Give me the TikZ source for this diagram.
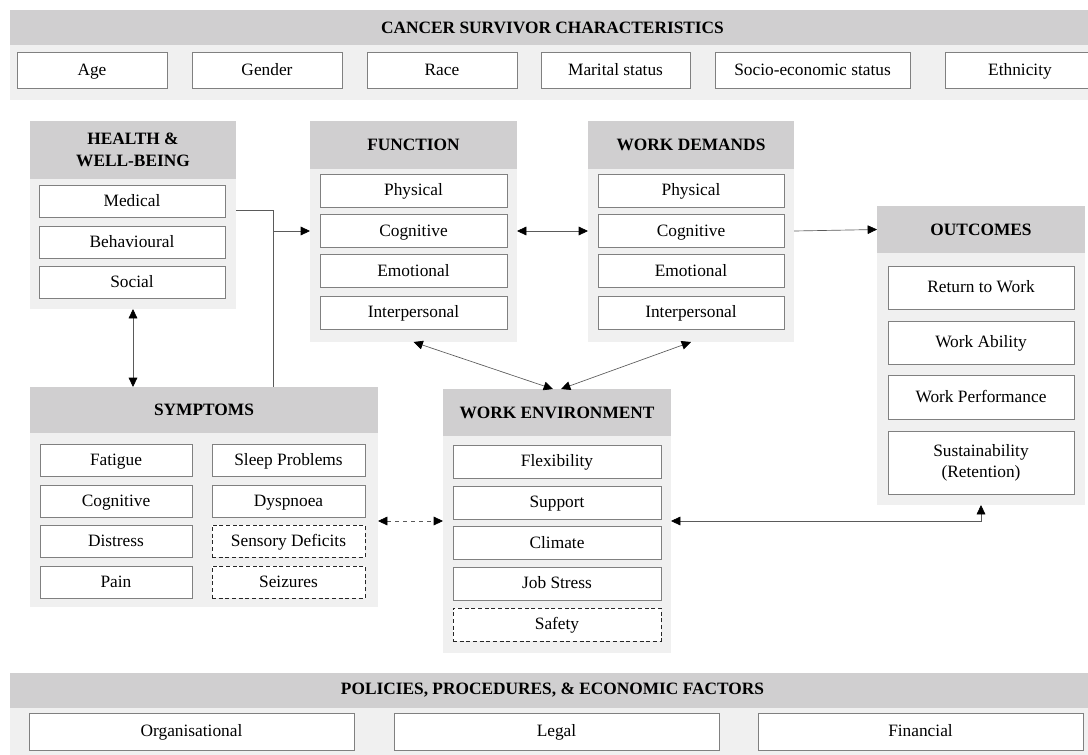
\documentclass[tikz,border=0pt]{standalone}
\usepackage{fontspec}
\setmainfont{Liberation Serif}
\usetikzlibrary{arrows.meta}
\definecolor{headgray}{RGB}{208,207,208}
\definecolor{panelgray}{RGB}{240,240,240}
\definecolor{boxgray}{RGB}{128,128,128}
\definecolor{linegray}{RGB}{90,90,90}
\tikzstyle{panel} = [fill=panelgray,inner sep=0pt,outer sep=0pt]
\tikzstyle{heading} = [fill=headgray,inner sep=0pt,outer sep=0pt,align=center,
    font=\fontsize{13}{16}\selectfont\bfseries]
\tikzstyle{item} = [draw=boxgray,line width=0.6pt,fill=white,inner sep=0pt,outer sep=0pt,
    align=center,text height=10pt,text depth=2.5pt,font=\fontsize{13}{16}\selectfont]
\tikzstyle{dasheditem} = [item,draw=black!85,dash pattern=on 3pt off 2pt]
\tikzstyle{link} = [draw=linegray,line width=0.5pt]
\tikzstyle{oneway} = [link,-{Triangle[length=7pt,width=6.5pt,color=black]}]
\tikzstyle{twoway} = [link,{Triangle[length=7pt,width=6.5pt,color=black]}-{Triangle[length=7pt,width=6.5pt,color=black]}]
\tikzset{boxsize/.style 2 args={minimum width=({#1})*0.75pt,minimum height=({#2})*0.75pt}}
% grey panel with its heading band: name, x1, y1, x2, y2, heading bottom, title
\newcommand{\groupbox}[7]{
    \node (#1) [panel, boxsize={#4-#2}{#5-#3}] at ({(#2+#4)/2},{(#3+#5)/2}) {};
    \node (#1head) [heading, boxsize={#4-#2}{#6-#3}] at ({(#2+#4)/2},{(#3+#6)/2}) {#7};
}

\begin{document}
\begin{tikzpicture}[x=0.75pt,y=-0.75pt]
	\useasboundingbox (0,0) rectangle (1088,754);
	
	% survivor characteristics
	\groupbox{traits}{10}{10}{1095}{100}{45}{CANCER SURVIVOR CHARACTERISTICS}
	\node (age) [item, boxsize={150}{36}] at (92,70) {Age};
	\node (gender) [item, boxsize={150}{36}] at (267,70) {Gender};
	\node (race) [item, boxsize={150}{36}] at (442,70) {Race};
	\node (marital) [item, boxsize={149}{36}] at (615.5,70) {Marital status};
	\node (socio) [item, boxsize={195}{36}] at (812.5,70) {Socio-economic status};
	\node (ethnicity) [item, boxsize={150}{36}] at (1020,70) {Ethnicity};
	
	% health and well-being
	\groupbox{health}{30}{121}{236}{309}{179}{HEALTH \&\\WELL-BEING}
	\foreach \y/\n/\t in {201/medical/Medical, 242/behaviour/Behavioural, 282/social/Social}
		\node (\n) [item, boxsize={186}{32}] at (132,\y) {\t};
	
	% function
	\groupbox{function}{310}{121}{517}{342}{169}{FUNCTION}
	\foreach \y/\n/\t in {190.5/phys/Physical, 231/cog/Cognitive, 271/emo/Emotional, 312.5/inter/Interpersonal}
		\node (f\n) [item, boxsize={187}{33}] at (413.5,\y) {\t};
	
	% work demands
	\groupbox{demands}{588}{121}{794}{342}{169}{WORK DEMANDS}
	\foreach \y/\n/\t in {190.5/phys/Physical, 231/cog/Cognitive, 271/emo/Emotional, 312.5/inter/Interpersonal}
		\node (d\n) [item, boxsize={186}{33}] at (691,\y) {\t};
	
	% outcomes
	\groupbox{outcomes}{877}{206}{1085}{505}{253}{OUTCOMES}
	\node (rtw) [item, boxsize={186}{43}] at (981,287.5) {Return to Work};
	\node (ability) [item, boxsize={186}{43}] at (981,342.5) {Work Ability};
	\node (perform) [item, boxsize={186}{44}] at (981,397) {Work Performance};
	\node (sustain) [item, boxsize={186}{63}, text height=, text depth=] at (981,462.5) {Sustainability\\(Retention)};
	
	% symptoms
	\groupbox{symptoms}{30}{387}{378}{607}{433}{SYMPTOMS}
	\foreach \y/\n/\t in {460/fatigue/Fatigue, 501/scog/Cognitive, 541/distress/Distress, 582/pain/Pain}
		\node (\n) [item, boxsize={152}{32}] at (116,\y) {\t};
	\node (sleep) [item, boxsize={153}{32}] at (288.5,460) {Sleep Problems};
	\node (dyspnoea) [item, boxsize={153}{32}] at (288.5,501) {Dyspnoea};
	\node (sensory) [dasheditem, boxsize={153}{32}] at (288.5,541) {Sensory Deficits};
	\node (seizures) [dasheditem, boxsize={153}{32}] at (288.5,582) {Seizures};
	
	% work environment
	\groupbox{environment}{443}{389}{671}{653}{436}{WORK ENVIRONMENT}
	\foreach \y/\n/\t in {461.5/flex/Flexibility, 502.5/support/Support, 543/climate/Climate, 583.5/stress/Job Stress}
		\node (\n) [item, boxsize={208}{33}] at (557,\y) {\t};
	\node (safety) [dasheditem, boxsize={208}{33}] at (557,624.5) {Safety};
	
	% policies
	\groupbox{policies}{10}{673}{1095}{760}{708}{POLICIES, PROCEDURES, \& ECONOMIC FACTORS}
	\node (organisational) [item, boxsize={325}{37}] at (191.5,731.5) {Organisational};
	\node (legal) [item, boxsize={325}{37}] at (556.5,731.5) {Legal};
	\node (financial) [item, boxsize={325}{37}] at (920.5,731.5) {Financial};
	
	% connectors
	\draw[link] ([yshift=3.75pt]health.east) -- ++(37,0) coordinate (hbend) -- (hbend |- symptoms.north);
	\draw[oneway] (hbend |- fcog) -- (function.west |- fcog);
	\draw[twoway] (function.east |- fcog) -- (demands.west |- dcog);
	\draw[oneway] (demands.east |- dcog) -- (outcomeshead.west);
	\draw[twoway] (health.south) -- (symptoms.north -| health.south);
	\draw[twoway] (function.south) -- ([xshift=-3pt]environmenthead.north);
	\draw[twoway] (demands.south) -- ([xshift=3pt]environmenthead.north);
	\draw[twoway, dashed] (symptoms.east |- environment.west) -- (environment.west);
	\draw[twoway] (environment.east) -| (outcomes.south);
\end{tikzpicture}
\end{document}
